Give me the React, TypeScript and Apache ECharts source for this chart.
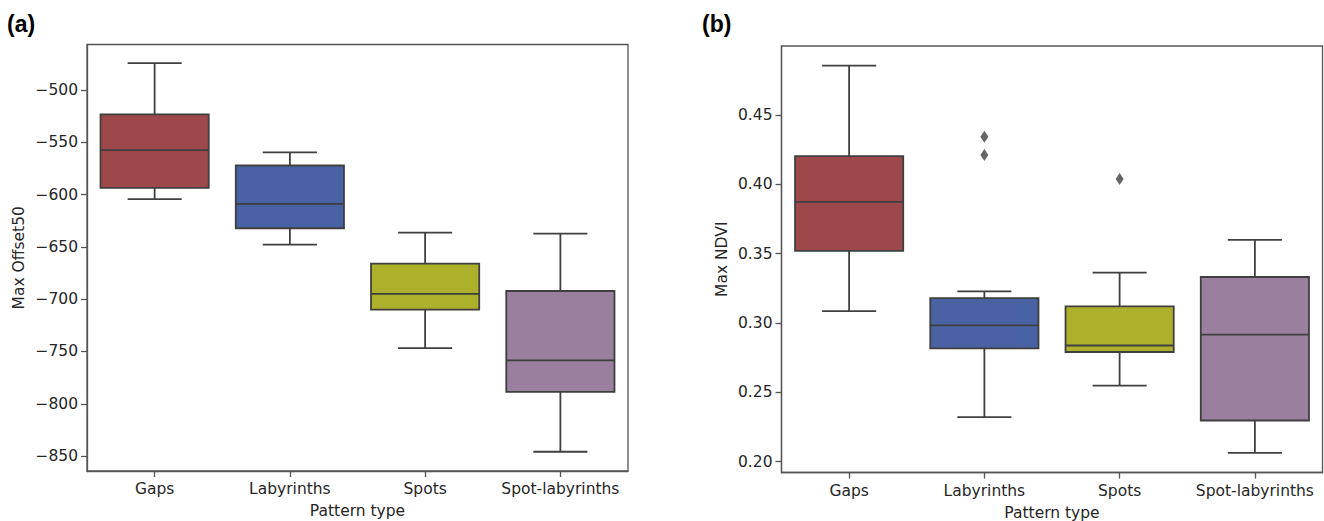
import React, { useEffect, useRef } from "react";
import * as echarts from "echarts";

const categories = ["Gaps", "Labyrinths", "Spots", "Spot-labyrinths"];
const boxColors = ["#9d484a", "#4862a3", "#adb02a", "#9a7f9e"];

// Panel (a): Max Offset50
const offsetLow = [-604.4, -647.8, -746.8, -845.9];
const offsetQ1 = [-593.6, -632.2, -710, -788.6];
const offsetMed = [-557.5, -608.9, -695, -758.6];
const offsetQ3 = [-523.3, -572.2, -666, -692.2];
const offsetHigh = [-474.4, -559.7, -636.3, -637.3];
const offsetTicks = [-850, -800, -750, -700, -650, -600, -550, -500];

// Panel (b): Max NDVI
const ndviLow = [0.3086, 0.2322, 0.2548, 0.2063];
const ndviQ1 = [0.352, 0.2817, 0.2791, 0.2297];
const ndviMed = [0.3874, 0.2983, 0.2838, 0.2916];
const ndviQ3 = [0.4204, 0.318, 0.312, 0.3332];
const ndviHigh = [0.4856, 0.3228, 0.3363, 0.36];
const ndviOutliers: [number, number][] = [
  [1, 0.4343],
  [1, 0.4211],
  [2, 0.4038],
];
const ndviTicks = [0.2, 0.25, 0.3, 0.35, 0.4, 0.45];

const EDGE = "#3f3f3f";
const FRAME = "#555555";
const TEXT = "#262626";
const FONT = '"DejaVu Sans", sans-serif';
const FS = 15.5;

function buildRows(low: number[], q1: number[], med: number[], q3: number[], high: number[]) {
  return categories.map((_, i) => [i, low[i], q1[i], med[i], q3[i], high[i]]);
}

function renderBox(params: any, api: any) {
  const idx = api.value(0);
  const pLow = api.coord([idx, api.value(1)]);
  const pQ1 = api.coord([idx, api.value(2)]);
  const pMed = api.coord([idx, api.value(3)]);
  const pQ3 = api.coord([idx, api.value(4)]);
  const pHigh = api.coord([idx, api.value(5)]);
  const band = api.size([1, 0])[0];
  const bw = band * 0.8;
  const cx = pMed[0];
  const cap = bw / 4;
  const ls = { stroke: EDGE, lineWidth: 1.8 };
  return {
    type: "group",
    children: [
      { type: "line", shape: { x1: cx, y1: pLow[1], x2: cx, y2: pQ1[1] }, style: ls },
      { type: "line", shape: { x1: cx, y1: pQ3[1], x2: cx, y2: pHigh[1] }, style: ls },
      { type: "line", shape: { x1: cx - cap, y1: pLow[1], x2: cx + cap, y2: pLow[1] }, style: ls },
      { type: "line", shape: { x1: cx - cap, y1: pHigh[1], x2: cx + cap, y2: pHigh[1] }, style: ls },
      {
        type: "rect",
        shape: { x: cx - bw / 2, y: pQ3[1], width: bw, height: pQ1[1] - pQ3[1] },
        style: { fill: boxColors[idx], stroke: EDGE, lineWidth: 1.8 },
      },
      { type: "line", shape: { x1: cx - bw / 2, y1: pMed[1], x2: cx + bw / 2, y2: pMed[1] }, style: ls },
    ],
  };
}

const minusFmt = (v: number) => (v < 0 ? "\u2212" + Math.abs(v) : String(v));

export default function App() {
  const ref = useRef<HTMLDivElement>(null);
  useEffect(() => {
    if (!ref.current) return;
    const chart = echarts.init(ref.current, undefined, { renderer: "svg" });
    const xAxisBase = {
      type: "category",
      data: categories,
      boundaryGap: true,
      name: "Pattern type",
      nameLocation: "middle",
      nameGap: 32,
      nameTextStyle: { fontFamily: FONT, fontSize: FS, color: TEXT },
      axisLine: { show: true, lineStyle: { color: FRAME, width: 1.3 } },
      axisTick: { show: true, alignWithLabel: true, interval: 0, length: 6, lineStyle: { color: FRAME, width: 1.3 } },
      axisLabel: { interval: 0, fontFamily: FONT, fontSize: FS, color: TEXT, margin: 10 },
      splitLine: { show: false },
    };
    const option: any = {
      animation: false,
      backgroundColor: "#ffffff",
      grid: [
        { left: 87, top: 44.5, width: 541, height: 426.5, outerBoundsMode: "none", containLabel: false, show: true, borderColor: FRAME, borderWidth: 1.3, backgroundColor: "transparent" },
        { left: 781.5, top: 46, width: 541, height: 426.5, outerBoundsMode: "none", containLabel: false, show: true, borderColor: FRAME, borderWidth: 1.3, backgroundColor: "transparent" },
      ],
      xAxis: [
        { ...xAxisBase, gridIndex: 0 },
        { ...xAxisBase, gridIndex: 1 },
      ],
      yAxis: [
        {
          type: "value",
          gridIndex: 0,
          min: -864.3,
          max: -456.5,
          name: "Max Offset50",
          nameLocation: "middle",
          nameGap: 60,
          nameTextStyle: { fontFamily: FONT, fontSize: FS, color: TEXT },
          axisLine: { show: true, lineStyle: { color: FRAME, width: 1.3 } },
          axisTick: { show: true, length: 6, customValues: offsetTicks, lineStyle: { color: FRAME, width: 1.3 } },
          axisLabel: { customValues: offsetTicks, formatter: minusFmt, fontFamily: FONT, fontSize: FS, color: TEXT, margin: 9 },
          splitLine: { show: false },
        },
        {
          type: "value",
          gridIndex: 1,
          min: 0.1922,
          max: 0.4998,
          name: "Max NDVI",
          nameLocation: "middle",
          nameGap: 52,
          nameTextStyle: { fontFamily: FONT, fontSize: FS, color: TEXT },
          axisLine: { show: true, lineStyle: { color: FRAME, width: 1.3 } },
          axisTick: { show: true, length: 6, customValues: ndviTicks, lineStyle: { color: FRAME, width: 1.3 } },
          axisLabel: { customValues: ndviTicks, formatter: (v: number) => v.toFixed(2), fontFamily: FONT, fontSize: FS, color: TEXT, margin: 9 },
          splitLine: { show: false },
        },
      ],
      graphic: [
        { type: "text", left: 7, top: 12, style: { text: "(a)", font: 'bold 23px "Liberation Sans"', fill: "#000" } },
        { type: "text", left: 702, top: 12, style: { text: "(b)", font: 'bold 23px "Liberation Sans"', fill: "#000" } },
      ],
      series: [
        {
          type: "custom",
          xAxisIndex: 0,
          yAxisIndex: 0,
          renderItem: renderBox,
          encode: { x: 0, y: [1, 2, 3, 4, 5] },
          data: buildRows(offsetLow, offsetQ1, offsetMed, offsetQ3, offsetHigh),
        },
        {
          type: "custom",
          xAxisIndex: 1,
          yAxisIndex: 1,
          renderItem: renderBox,
          encode: { x: 0, y: [1, 2, 3, 4, 5] },
          data: buildRows(ndviLow, ndviQ1, ndviMed, ndviQ3, ndviHigh),
        },
        {
          type: "scatter",
          xAxisIndex: 1,
          yAxisIndex: 1,
          symbol: "diamond",
          symbolSize: [8, 12],
          itemStyle: { color: EDGE },
          data: ndviOutliers,
        },
      ],
    };
    chart.setOption(option);
    return () => chart.dispose();
  }, []);
  return (
    <div
      ref={ref}
      style={{ position: "fixed", left: 0, top: 0, width: 1324, height: 521, background: "#fff" }}
    />
  );
}
